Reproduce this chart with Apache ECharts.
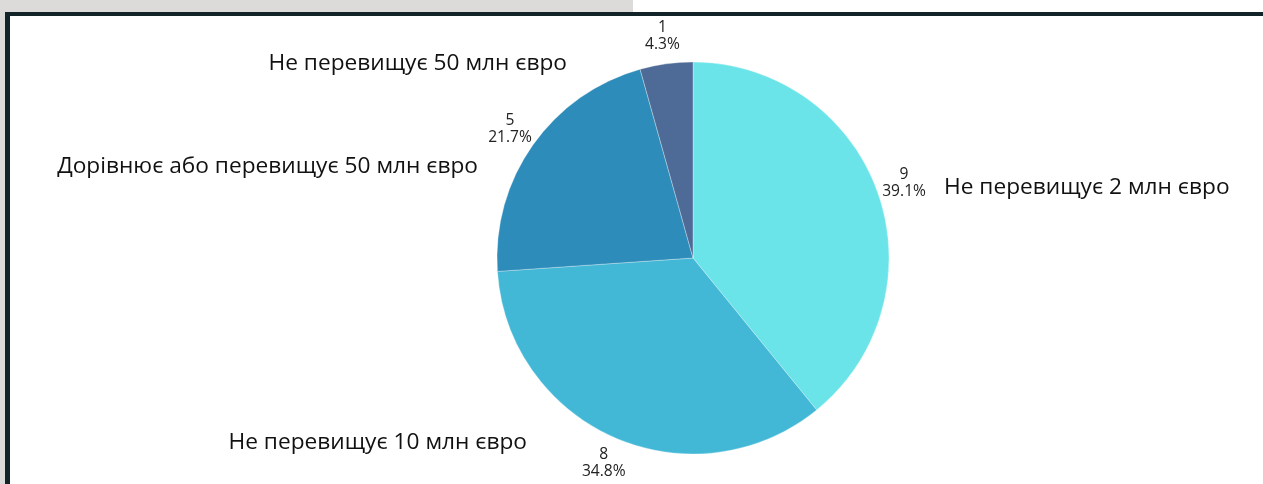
<!DOCTYPE html>
<html>
<head>
<meta charset="utf-8">
<script src="https://cdn.jsdelivr.net/npm/echarts@6/dist/echarts.min.js"></script>
<style>
  html, body { margin: 0; padding: 0; background: #ffffff; }
  body { width: 1263px; height: 484px; position: relative; overflow: hidden; }
  .strip-top { position: absolute; left: 0; top: 0; width: 633px; height: 12px; background: #dcdbd9; }
  .strip-left { position: absolute; left: 0; top: 0; width: 5px; height: 484px; background: #dcdbd9; }
  .frame { position: absolute; left: 5px; top: 12px; right: 0; bottom: 0;
           border-top: 4px solid #122428; border-left: 5px solid #122428; background: #ffffff; }
  #chart { position: absolute; left: 0; top: 0; width: 1263px; height: 484px; }
</style>
</head>
<body>
<div class="strip-top"></div>
<div class="strip-left"></div>
<div class="frame"></div>
<div id="chart"></div>
<script>
// Company size groups and number of responses in each
const categories = [
  'Не перевищує 2 млн євро',
  'Не перевищує 10 млн євро',
  'Дорівнює або перевищує 50 млн євро',
  'Не перевищує 50 млн євро'
];
const counts = [9, 8, 5, 1];
const colors = ['#6ae4e8', '#43b8d6', '#2e8cba', '#4e6b97'];

// Where each category caption sits (anchor point and alignment)
const captionPlacement = [
  { x: 944, y: 188, align: 'left' },
  { x: 527, y: 443, align: 'right' },
  { x: 478, y: 167, align: 'right' },
  { x: 567, y: 64, align: 'right' }
];

const total = counts.reduce((a, b) => a + b, 0);
const pieData = categories.map((name, i) => ({ name: name, value: counts[i] }));

const chart = echarts.init(document.getElementById('chart'), null, { renderer: 'canvas' });
chart.setOption({
  animation: false,
  color: colors,
  textStyle: { fontFamily: 'Open Sans' },
  series: [
    {
      // Slices with their category captions
      type: 'pie',
      center: [693, 258],
      radius: [0, 196],
      startAngle: 90,
      clockwise: true,
      silent: true,
      itemStyle: { borderColor: 'rgba(255,255,255,0.6)', borderWidth: 0.5 },
      label: {
        show: true,
        position: 'outside',
        formatter: '{b}',
        fontSize: 22.7,
        color: '#111111',
        fontFamily: 'Open Sans'
      },
      labelLine: { show: false },
      labelLayout: function (params) {
        const p = captionPlacement[params.dataIndex];
        return { x: p.x, y: p.y, align: p.align, verticalAlign: 'middle' };
      },
      data: pieData
    },
    {
      // Invisible ring that carries the count / share labels just outside the pie
      type: 'pie',
      center: [693, 258],
      radius: [212, 230],
      startAngle: 90,
      clockwise: true,
      silent: true,
      itemStyle: { color: 'rgba(0,0,0,0)' },
      label: {
        show: true,
        position: 'inside',
        formatter: function (p) {
          return p.value + '\n' + (p.value / total * 100).toFixed(1) + '%';
        },
        fontSize: 15.6,
        lineHeight: 17,
        color: '#222222',
        align: 'center',
        fontFamily: 'Open Sans'
      },
      labelLine: { show: false },
      data: pieData
    }
  ]
});
</script>
</body>
</html>
